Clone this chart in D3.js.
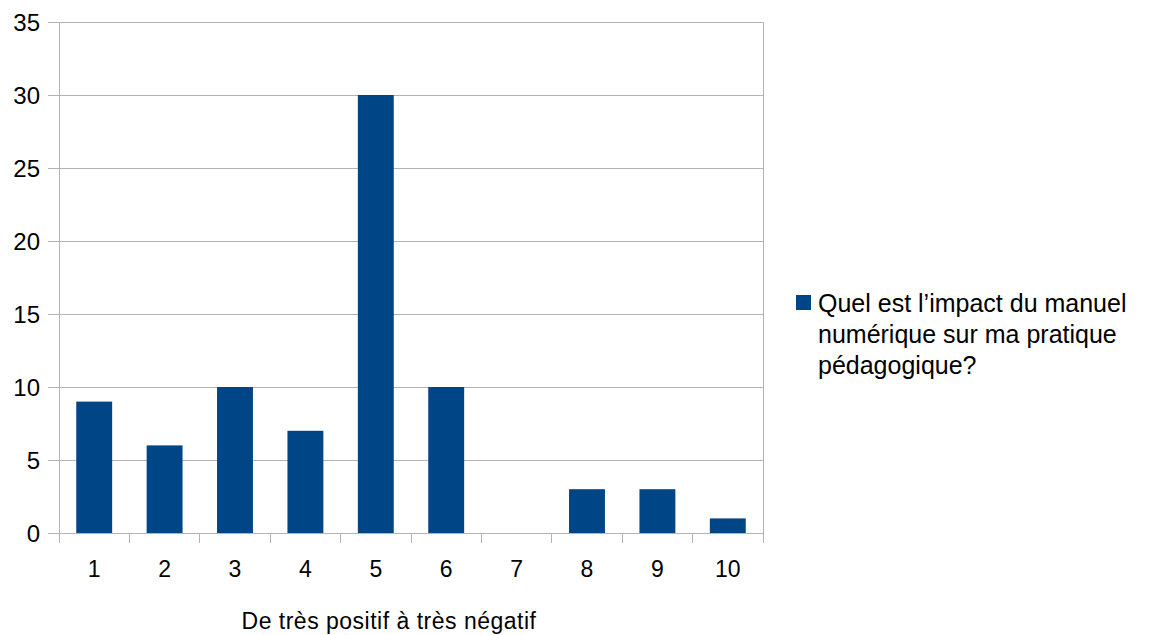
<!DOCTYPE html>
<html><head><meta charset="utf-8">
<script src="https://cdn.jsdelivr.net/npm/d3@7"></script>
<style>body{margin:0;background:#fff}svg{display:block;font-family:"Liberation Sans",Arial,sans-serif}</style>
</head><body>
<svg id="c" width="1149" height="635"></svg>
<script>
const categories = ["1","2","3","4","5","6","7","8","9","10"];
const values = [9,6,10,7,30,10,0,3,3,1];
const yTicks = [0,5,10,15,20,25,30,35];
const seriesName = ["Quel est l\u2019impact du manuel","numérique sur ma pratique","pédagogique?"];
const xTitle = "De très positif à très négatif";

const svg = d3.select("#c");
const L=59, R=763, T=22, B=533;
const x = d3.scaleBand().domain(categories).range([L,R]).paddingInner(0.49).paddingOuter(0.245);
const xb = d3.scaleBand().domain(categories).range([L,R]);
const y = d3.scaleLinear().domain([0,35]).range([B,T]);
const grid="#b3b3b3";

// gridlines
svg.append("g").selectAll("line").data(yTicks).join("line")
  .attr("x1",48).attr("x2",R).attr("y1",d=>y(d)).attr("y2",d=>y(d))
  .attr("stroke",grid).attr("stroke-width",1).attr("shape-rendering","crispEdges");
// frame verticals
svg.append("line").attr("x1",L).attr("x2",L).attr("y1",T).attr("y2",543).attr("stroke",grid).attr("shape-rendering","crispEdges");
svg.append("line").attr("x1",R).attr("x2",R).attr("y1",T).attr("y2",543).attr("stroke",grid).attr("shape-rendering","crispEdges");
// x ticks
svg.append("g").selectAll("line").data(categories.slice(1)).join("line")
  .attr("x1",d=>xb(d)).attr("x2",d=>xb(d)).attr("y1",B).attr("y2",543)
  .attr("stroke",grid).attr("shape-rendering","crispEdges");

// bars
svg.append("g").selectAll("rect").data(values).join("rect")
  .attr("x",(d,i)=>x(categories[i])).attr("width",x.bandwidth())
  .attr("y",d=>y(d)).attr("height",d=>B-y(d)).attr("fill","#004586");

// y labels
svg.append("g").selectAll("text").data(yTicks).join("text")
  .attr("x",40).attr("y",d=>y(d)).attr("dy","0.36em").attr("text-anchor","end")
  .attr("font-size",24).attr("fill","#000").text(d=>d);
// x labels
svg.append("g").selectAll("text").data(categories).join("text")
  .attr("x",d=>xb(d)+xb.bandwidth()/2).attr("y",569).attr("dy","0.36em").attr("text-anchor","middle")
  .attr("font-size",23).attr("fill","#000").text(d=>d);
// x title
svg.append("text").attr("x",389).attr("y",621).attr("dy","0.36em").attr("text-anchor","middle")
  .attr("font-size",23).attr("letter-spacing","0.5px").attr("fill","#000").text(xTitle);

// legend
svg.append("rect").attr("x",796).attr("y",295).attr("width",15).attr("height",15).attr("fill","#004586");
svg.append("g").selectAll("text").data(seriesName).join("text")
  .attr("x",818).attr("y",(d,i)=>303+i*31).attr("dy","0.36em")
  .attr("font-size",25).attr("fill","#000").text(d=>d);
</script>
</body></html>
